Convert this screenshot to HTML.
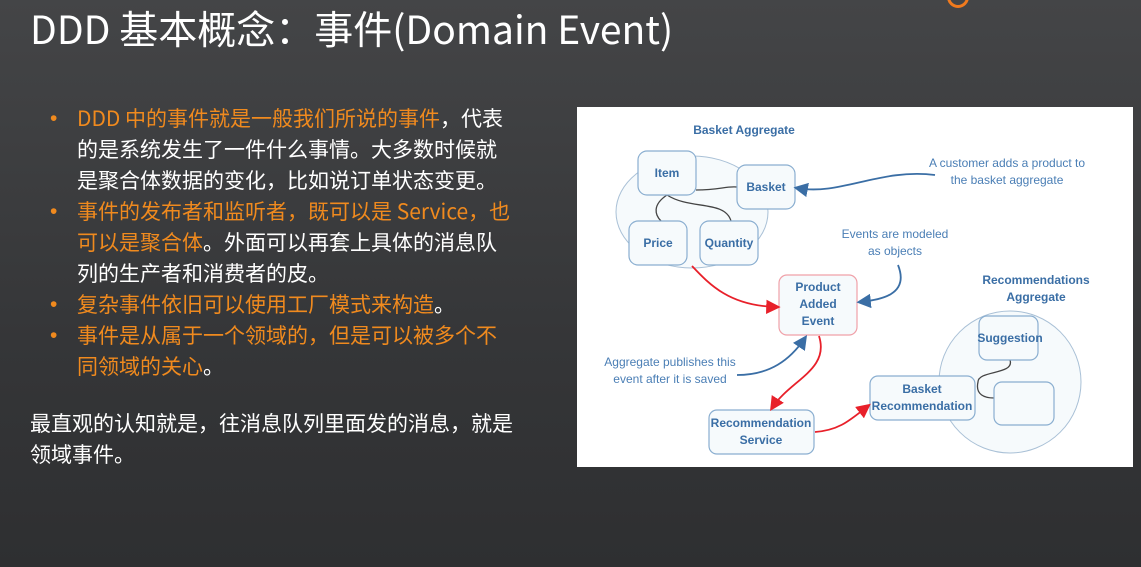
<!DOCTYPE html>
<html><head><meta charset="utf-8"><style>
body{margin:0;width:1141px;height:567px;overflow:hidden;background:linear-gradient(#444547,#353638 60%,#2e2f31);font-family:"Noto Sans CJK SC","Liberation Sans",sans-serif;position:relative}
.t{position:absolute;left:30px;top:0px;color:#fff;font-size:39px;white-space:nowrap}
ul{position:absolute;left:50px;top:103px;margin:0;padding:0;list-style:none;width:480px;font-size:21px;line-height:31px;color:#fff;white-space:nowrap}
li{position:relative;padding-left:27px}
li:before{content:"•";position:absolute;left:0;color:#f08a1e;font-family:"Liberation Sans",sans-serif}
.o{color:#f08a1e}
.p{position:absolute;left:30px;top:408px;color:#fff;font-size:21px;line-height:31px;white-space:nowrap}
.logo{position:absolute;left:947px;top:-14px;width:16px;height:16px;border:3px solid #f07a1e;border-radius:50%}
</style></head><body>
<div class="logo"></div>
<div class="t">DDD 基本概念：事件(Domain Event)</div>
<ul>
<li><span class="o">DDD 中的事件就是一般我们所说的事件</span>，代表<br>的是系统发生了一件什么事情。大多数时候就<br>是聚合体数据的变化，比如说订单状态变更。</li>
<li><span class="o">事件的发布者和监听者，既可以是 Service，也<br>可以是聚合体</span>。外面可以再套上具体的消息队<br>列的生产者和消费者的皮。</li>
<li><span class="o">复杂事件依旧可以使用工厂模式来构造</span>。</li>
<li><span class="o">事件是从属于一个领域的，但是可以被多个不<br>同领域的关心</span>。</li>
</ul>
<div class="p">最直观的认知就是，往消息队列里面发的消息，就是<br>领域事件。</div>
<svg style="position:absolute;left:577px;top:107px" width="556" height="360" viewBox="577 107 556 360" font-family="Liberation Sans,sans-serif">
<rect x="577" y="107" width="556" height="360" fill="#fff"/>
<defs>
<marker id="b" markerWidth="8" markerHeight="8" refX="6" refY="4" orient="auto"><path d="M0,0L8,4L0,8z" fill="#3a6ea5"/></marker>
<marker id="r" markerWidth="8" markerHeight="8" refX="6" refY="4" orient="auto"><path d="M0,0L8,4L0,8z" fill="#e8202a"/></marker>
</defs>
<g fill="#f6fafc" stroke="#a9c0d6" stroke-width="1">
<ellipse cx="692" cy="212" rx="76" ry="56"/>
<circle cx="1010" cy="382" r="71"/>
</g>
<g fill="none" stroke="#444" stroke-width="1.3">
<path d="M696,190 C720,190 725,186 737,187"/>
<path d="M667,195 C652,205 655,215 661,221"/>
<path d="M667,195 C690,210 725,200 731,221"/>
<path d="M1010,360 C1015,375 978,370 978,382 C975,395 985,398 994,398"/>
</g>
<g fill="#f6fafc" stroke="#8aaed0" stroke-width="1.2">
<rect x="638" y="151" width="58" height="44" rx="9"/>
<rect x="737" y="165" width="58" height="44" rx="9"/>
<rect x="629" y="221" width="58" height="44" rx="9"/>
<rect x="700" y="221" width="58" height="44" rx="9"/>
<rect x="779" y="275" width="78" height="60" rx="8" stroke="#f0a0a8"/>
<rect x="709" y="410" width="105" height="44" rx="8"/>
<rect x="870" y="376" width="105" height="44" rx="8"/>
<rect x="979" y="316" width="59" height="44" rx="8"/>
<rect x="994" y="382" width="60" height="43" rx="8"/>
</g>
<g fill="#3a6ea5" font-size="12" font-weight="bold" text-anchor="middle">
<text x="744" y="134">Basket  Aggregate</text>
<text x="667" y="177">Item</text>
<text x="766" y="191">Basket</text>
<text x="658" y="247">Price</text>
<text x="729" y="247">Quantity</text>
<text x="818" y="291">Product</text>
<text x="818" y="308">Added</text>
<text x="818" y="325">Event</text>
<text x="761" y="427">Recommendation</text>
<text x="761" y="444">Service</text>
<text x="922" y="393">Basket</text>
<text x="922" y="410">Recommendation</text>
<text x="1010" y="342">Suggestion</text>
<text x="1036" y="284">Recommendations</text>
<text x="1036" y="301">Aggregate</text>
</g>
<g fill="#4a7eb5" font-size="12" text-anchor="middle">
<text x="1007" y="167">A customer adds a product to</text>
<text x="1007" y="184">the basket aggregate</text>
<text x="895" y="238">Events are modeled</text>
<text x="895" y="255">as objects</text>
<text x="670" y="366">Aggregate publishes this</text>
<text x="670" y="383">event after it is saved</text>
</g>
<g fill="none" stroke-width="1.8">
<path d="M935,175 C880,168 840,196 797,188" stroke="#3a6ea5" marker-end="url(#b)"/>
<path d="M898,265 C910,295 880,300 860,302" stroke="#3a6ea5" marker-end="url(#b)"/>
<path d="M737,375 C770,375 790,360 805,338" stroke="#3a6ea5" marker-end="url(#b)"/>
<path d="M692,266 C710,285 730,306 777,307" stroke="#e8202a" marker-end="url(#r)"/>
<path d="M819,336 C830,370 790,380 772,408" stroke="#e8202a" marker-end="url(#r)"/>
<path d="M815,432 C840,430 850,420 868,406" stroke="#e8202a" marker-end="url(#r)"/>
</g>
</svg>
</body></html>
